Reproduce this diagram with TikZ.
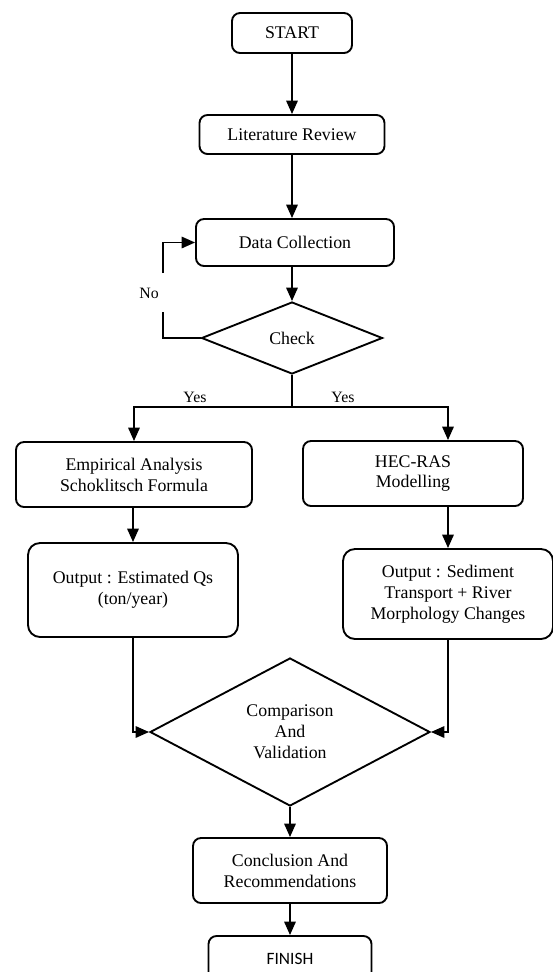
\documentclass[tikz,border=0pt]{standalone}
\usepackage{fontspec}
\setmainfont{Liberation Serif}
\newfontfamily\finishfont{Carlito}
\usetikzlibrary{arrows.meta, positioning, shapes.geometric, calc}

\newcommand{\px}{0.03cm}

\begin{document}
\begin{tikzpicture}[
    x=0.03cm, y=-0.03cm,
    >={Triangle[length=0.4cm, width=0.34cm]},
    flow/.style={line width=1.6pt},
    procbox/.style={draw, line width=1.6pt, rounded corners=0.24cm,
                    align=center, inner sep=2pt,
                    font=\fontsize{15.2}{17.8}\selectfont},
    outbox/.style={procbox, rounded corners=0.36cm},
    decision/.style={draw, diamond, line width=1.6pt, inner sep=0pt,
                     align=center, font=\fontsize{15.2}{17.8}\selectfont},
    lbl/.style={font=\fontsize{13.5}{15}\selectfont, inner sep=1pt}
  ]
  \useasboundingbox (0,0) rectangle (552,972);

  % main column
  \node[procbox, minimum width=120*\px, minimum height=40*\px] (start) at (292,33) {START};
  \node[procbox, minimum width=185*\px, minimum height=39*\px] (lit) at (292,134.5) {Literature Review};
  \node[procbox, minimum width=198*\px, minimum height=47*\px] (data) at (295,242.5) {Data Collection};
  \node[decision, minimum width=181*\px, minimum height=72*\px] (check) at (292,338) {Check};

  % two branches
  \node[procbox, minimum width=236*\px, minimum height=65*\px] (emp) at (134,474.5)
    {Empirical Analysis\\Schoklitsch Formula};
  \node[procbox, minimum width=220*\px, minimum height=65*\px] (hec) at (413,473.5)
    {HEC-RAS\\Modelling};
  \node[outbox, minimum width=210*\px, minimum height=94*\px] (outl) at (133,590)
    {Output : Estimated Qs\\(ton/year)};
  \node[outbox, minimum width=210*\px, minimum height=90*\px] (outr) at (448,594)
    {Output : Sediment\\Transport + River\\Morphology Changes};

  % join and end
  \node[decision, minimum width=280*\px, minimum height=148*\px] (comp) at (290,732)
    {Comparison\\And\\Validation};
  \node[procbox, minimum width=194*\px, minimum height=65*\px] (concl) at (290,870.5)
    {Conclusion And\\Recommendations};
  \node[procbox, minimum width=163*\px, minimum height=46*\px,
        font=\finishfont\fontsize{14.8}{17}\selectfont] (finish) at (290,959) {FINISH};

  \coordinate (split) at (292,407);
  \coordinate (nolow) at (163,312);
  \coordinate (nohigh) at (163,273);
  \node[lbl] (no) at (149,293) {No};
  \node[lbl] (yesl) at (195,397) {Yes};
  \node[lbl] (yesr) at (343,397) {Yes};

  % connectors
  \draw[flow, ->] (start) -- (lit);
  \draw[flow, ->] (lit.south -| check) -- (data.north -| check);
  \draw[flow, ->] (data.south -| check) -- (check.north);
  \draw[flow] (check.west) -| (nolow);
  \draw[flow, ->] (nohigh) |- (data.west);
  \draw[flow] (check.south) -- (split);
  \draw[flow, ->] (split) -| (emp.north);
  \draw[flow, ->] (split) -| (hec.north -| outr.north);
  \draw[flow, ->] (emp.south -| outl.north) -- (outl.north);
  \draw[flow, ->] (hec.south -| outr.north) -- (outr.north);
  \draw[flow, ->] (outl.south) |- (comp.west);
  \draw[flow, ->] (outr.south) |- (comp.east);
  \draw[flow, ->] (comp.south) -- (concl.north);
  \draw[flow, ->] (concl.south) -- (finish.north);
\end{tikzpicture}
\end{document}
